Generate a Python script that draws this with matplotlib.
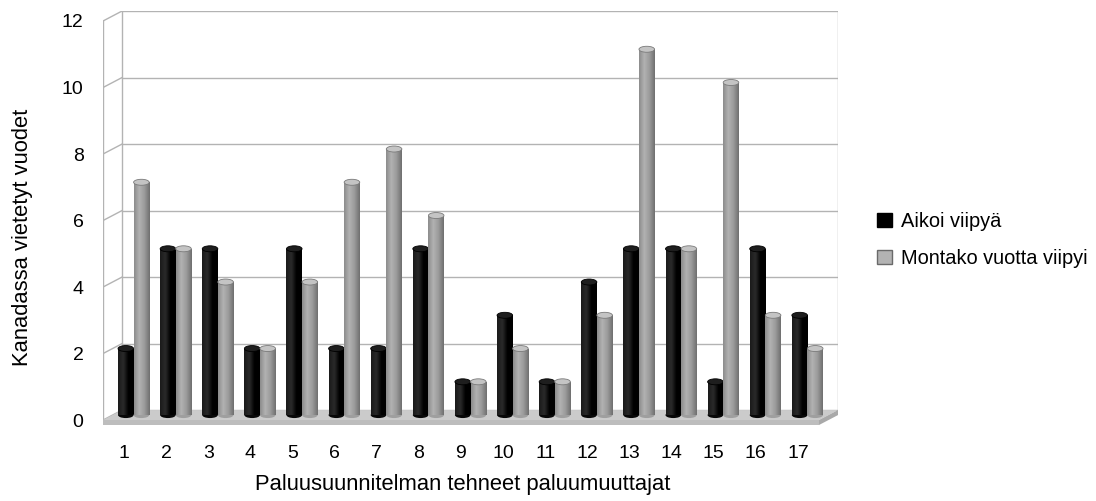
import matplotlib
matplotlib.use("Agg")
import matplotlib.pyplot as plt
import numpy as np
from matplotlib.patches import Polygon, Ellipse, Patch
from matplotlib.colors import LinearSegmentedColormap

plt.rcParams['font.family'] = ['Liberation Sans', 'DejaVu Sans']

# ── Data ──────────────────────────────────────────────────────────────────────
categories = [str(i) for i in range(1, 18)]
aikoi      = [2, 5, 5, 2, 5, 2, 2, 5, 1, 3, 1, 4, 5, 5, 1, 5, 3]     # Aikoi viipyä
montako    = [7, 5, 4, 2, 4, 7, 8, 6, 1, 2, 1, 3, 11, 5, 10, 3, 2]  # Montako vuotta viipyi
y_ticks    = [0, 2, 4, 6, 8, 10, 12]

# ── 3D-look settings ──────────────────────────────────────────────────────────
DX, DY   = 0.452, 0.30      # depth offset in data units
FLOOR_T  = 0.15
BAR_W    = 0.37
ELL_H    = 0.18
GRID     = "#b3b3b3"
FS       = 14
FS_LAB   = 15.8

n = len(categories)
x = np.arange(1, n + 1)
x_lo, x_hi = 0.5, n + 0.5
y_top = y_ticks[-1]

fig = plt.figure(figsize=(10.96, 5.01), dpi=100, facecolor="white")
ax = fig.add_axes([0.0940, 0.1483, 0.6706, 0.8297])
ax.set_facecolor("none")

# ── Walls & gridlines ─────────────────────────────────────────────────────────
for v in y_ticks:
    ax.plot([x_lo + DX, x_hi + DX], [v + DY, v + DY], color=GRID, lw=1.0, zorder=1)
    ax.plot([x_lo, x_lo + DX], [v, v + DY], color=GRID, lw=1.0, zorder=1)
ax.plot([x_lo, x_lo], [0, y_top], color=GRID, lw=1.0, zorder=1)
ax.plot([x_lo + DX, x_lo + DX], [DY, y_top + DY], color=GRID, lw=1.0, zorder=1)
ax.plot([x_hi + DX, x_hi + DX], [DY, y_top + DY], color=GRID, lw=1.0, zorder=1)

# ── Floor slab ────────────────────────────────────────────────────────────────
ax.add_patch(Polygon([(x_lo, 0), (x_hi, 0), (x_hi + DX, DY), (x_lo + DX, DY)],
                     closed=True, facecolor="#cbcbcb", edgecolor="none", zorder=2))
ax.add_patch(Polygon([(x_lo, 0), (x_hi, 0), (x_hi, -FLOOR_T), (x_lo, -FLOOR_T)],
                     closed=True, facecolor="#bdbdbd", edgecolor="none", zorder=2))
ax.add_patch(Polygon([(x_hi, 0), (x_hi + DX, DY), (x_hi + DX, DY - FLOOR_T), (x_hi, -FLOOR_T)],
                     closed=True, facecolor="#a9a9a9", edgecolor="none", zorder=2))

# ── Cylinders ─────────────────────────────────────────────────────────────────
cmap_black = LinearSegmentedColormap.from_list("blk", ["#1a1a1a", "#2a2a2a", "#000000", "#000000"])
cmap_grey  = LinearSegmentedColormap.from_list("gry", ["#8c8c8c", "#b2b2b2", "#9a9a9a", "#6f6f6f"])
grad = np.linspace(0, 1, 64).reshape(1, -1)

centers = x + DX / 2
base = DY / 2

def cylinders(xs, vals, cmap, top_col, top_edge, z):
    bars = ax.bar(xs, vals, width=BAR_W, bottom=base, color=cmap(0.5),
                  linewidth=0, zorder=z)
    for b, v in zip(bars, vals):
        x0, w = b.get_x(), b.get_width()
        ax.add_patch(Ellipse((x0 + w / 2, base), w, ELL_H, facecolor=cmap(0.6),
                             edgecolor="none", zorder=z - 0.1))
        im = ax.imshow(grad, extent=[x0, x0 + w, base, base + v], aspect="auto",
                       cmap=cmap, zorder=z + 0.05, interpolation="bilinear")
        im.set_clip_path(b)
        ax.add_patch(Ellipse((x0 + w / 2, base + v), w, ELL_H, facecolor=top_col,
                             edgecolor=top_edge, linewidth=0.6, zorder=z + 0.1))

cylinders(centers - BAR_W / 2, aikoi, cmap_black, "#1e1e1e", "#000000", 4)
cylinders(centers + BAR_W / 2, montako, cmap_grey, "#c4c4c4", "#7a7a7a", 5)

# ── Axes ──────────────────────────────────────────────────────────────────────
ax.set_xlim(x_lo, x_hi + DX)
ax.set_ylim(-0.2, y_top + 0.3)
for s in ax.spines.values():
    s.set_visible(False)
ax.set_xticks(x)
ax.set_xticklabels(categories)
ax.set_yticks(y_ticks)
ax.set_yticklabels([str(v) for v in y_ticks])
ax.tick_params(axis="both", length=0, labelsize=FS)
ax.tick_params(axis="x", pad=13)
ax.tick_params(axis="y", pad=14)

ax.set_xlabel("Paluusuunnitelman tehneet paluumuuttajat", fontsize=FS_LAB)
ax.set_ylabel("Kanadassa vietetyt vuodet", fontsize=FS_LAB)
ax.xaxis.set_label_coords(0.49, -0.114)
ax.yaxis.set_label_coords(-0.095, 0.456)

# ── Legend ────────────────────────────────────────────────────────────────────
handles = [Patch(facecolor="black", edgecolor="black", label="Aikoi viipyä"),
           Patch(facecolor="#b3b3b3", edgecolor="#6a6a6a", label="Montako vuotta viipyi")]
fig.legend(handles=handles, loc="center left", bbox_to_anchor=(0.800, 0.521),
           frameon=False, fontsize=14.4, handlelength=0.75, handleheight=0.75,
           handletextpad=0.45, labelspacing=0.9, borderpad=0, borderaxespad=0)

fig.savefig("out.png", dpi=100, facecolor="white")
